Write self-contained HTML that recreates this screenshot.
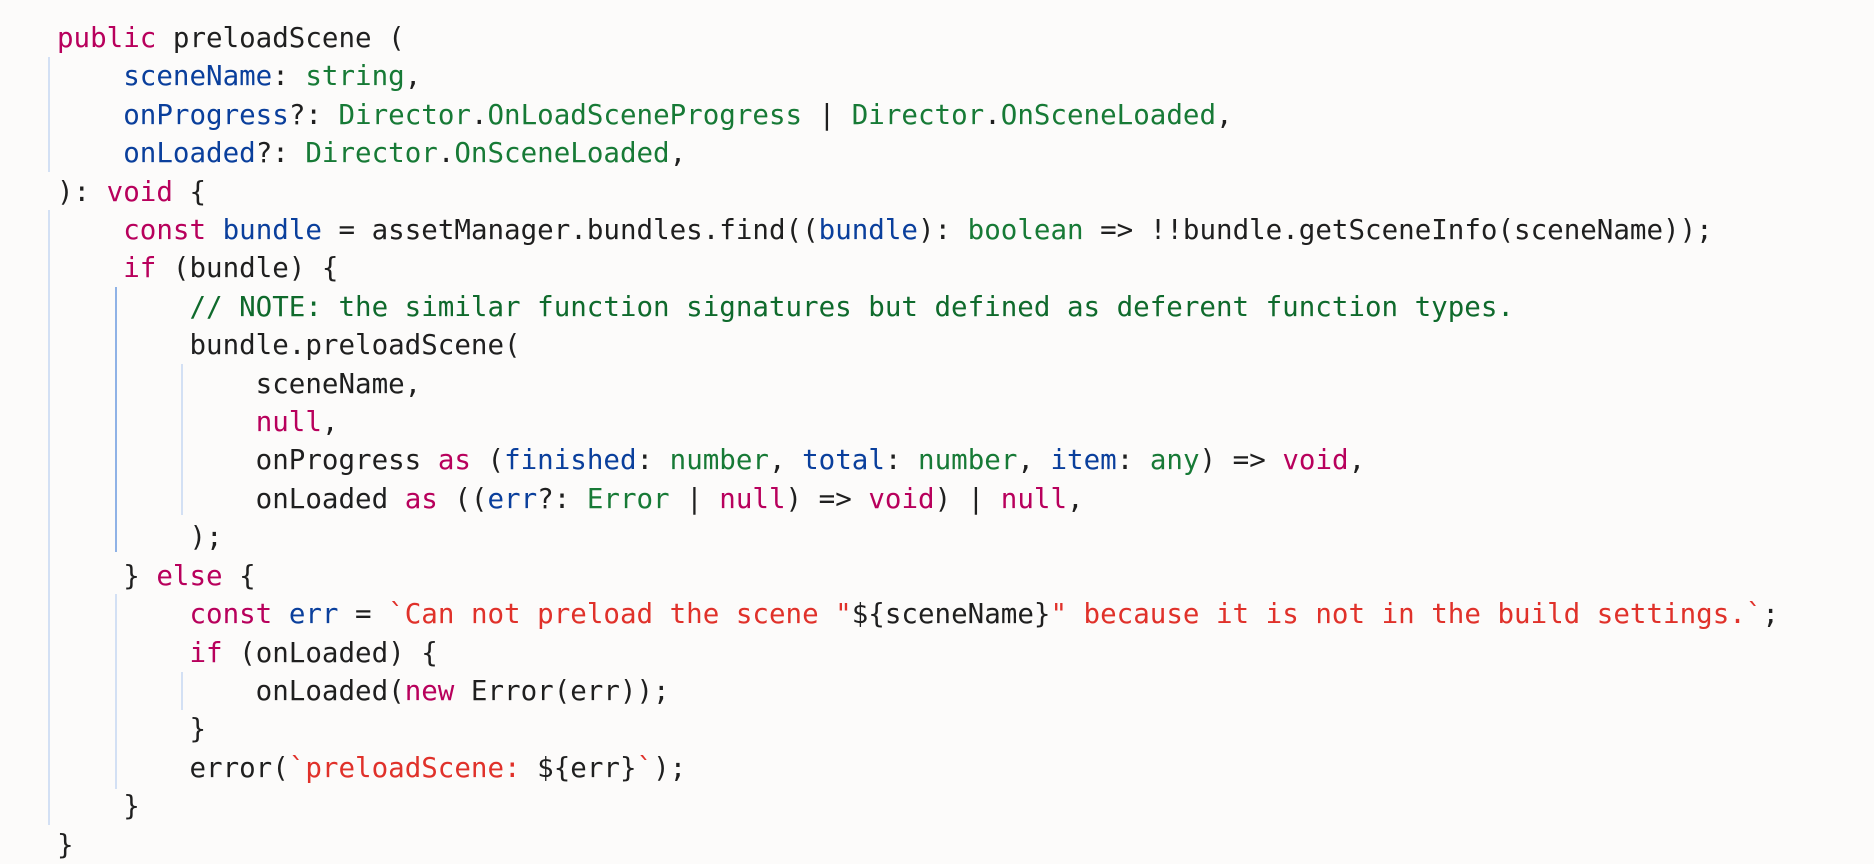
<!DOCTYPE html>
<html><head><meta charset="utf-8"><style>
html,body{margin:0;padding:0;background:#fcfbfa;width:1874px;height:864px;overflow:hidden;position:relative}
pre{position:absolute;left:57px;top:19px;margin:0;font-family:"DejaVu Sans Mono","Liberation Mono",monospace;font-size:27.5px;line-height:38.4px;color:#1f1f1f;white-space:pre}
.k{color:#b8005c}.b{color:#0a3f9c}.g{color:#177a36}.c{color:#0f6a2c}.s{color:#e0312a}
.v{position:absolute;width:2px;background:#d3e0f4}
.a{background:#8fb2e6}
</style></head><body>
<div class="v" style="left:48px;top:57px;height:115px"></div>
<div class="v" style="left:48px;top:210px;height:615px"></div>
<div class="v a" style="left:115px;top:287px;height:265px"></div>
<div class="v" style="left:115px;top:594px;height:195px"></div>
<div class="v" style="left:181px;top:364px;height:151px"></div>
<div class="v" style="left:181px;top:672px;height:38px"></div>
<pre><span class="k">public</span> preloadScene (
    <span class="b">sceneName</span>: <span class="g">string</span>,
    <span class="b">onProgress</span>?: <span class="g">Director</span>.<span class="g">OnLoadSceneProgress</span> | <span class="g">Director</span>.<span class="g">OnSceneLoaded</span>,
    <span class="b">onLoaded</span>?: <span class="g">Director</span>.<span class="g">OnSceneLoaded</span>,
): <span class="k">void</span> {
    <span class="k">const</span> <span class="b">bundle</span> = assetManager.bundles.find((<span class="b">bundle</span>): <span class="g">boolean</span> =&gt; !!bundle.getSceneInfo(sceneName));
    <span class="k">if</span> (bundle) {
        <span class="c">// NOTE: the similar function signatures but defined as deferent function types.</span>
        bundle.preloadScene(
            sceneName,
            <span class="k">null</span>,
            onProgress <span class="k">as</span> (<span class="b">finished</span>: <span class="g">number</span>, <span class="b">total</span>: <span class="g">number</span>, <span class="b">item</span>: <span class="g">any</span>) =&gt; <span class="k">void</span>,
            onLoaded <span class="k">as</span> ((<span class="b">err</span>?: <span class="g">Error</span> | <span class="k">null</span>) =&gt; <span class="k">void</span>) | <span class="k">null</span>,
        );
    } <span class="k">else</span> {
        <span class="k">const</span> <span class="b">err</span> = <span class="s">`Can not preload the scene "</span>${sceneName}<span class="s">" because it is not in the build settings.`</span>;
        <span class="k">if</span> (onLoaded) {
            onLoaded(<span class="k">new</span> Error(err));
        }
        error(<span class="s">`preloadScene: </span>${err}<span class="s">`</span>);
    }
}</pre>
</body></html>
